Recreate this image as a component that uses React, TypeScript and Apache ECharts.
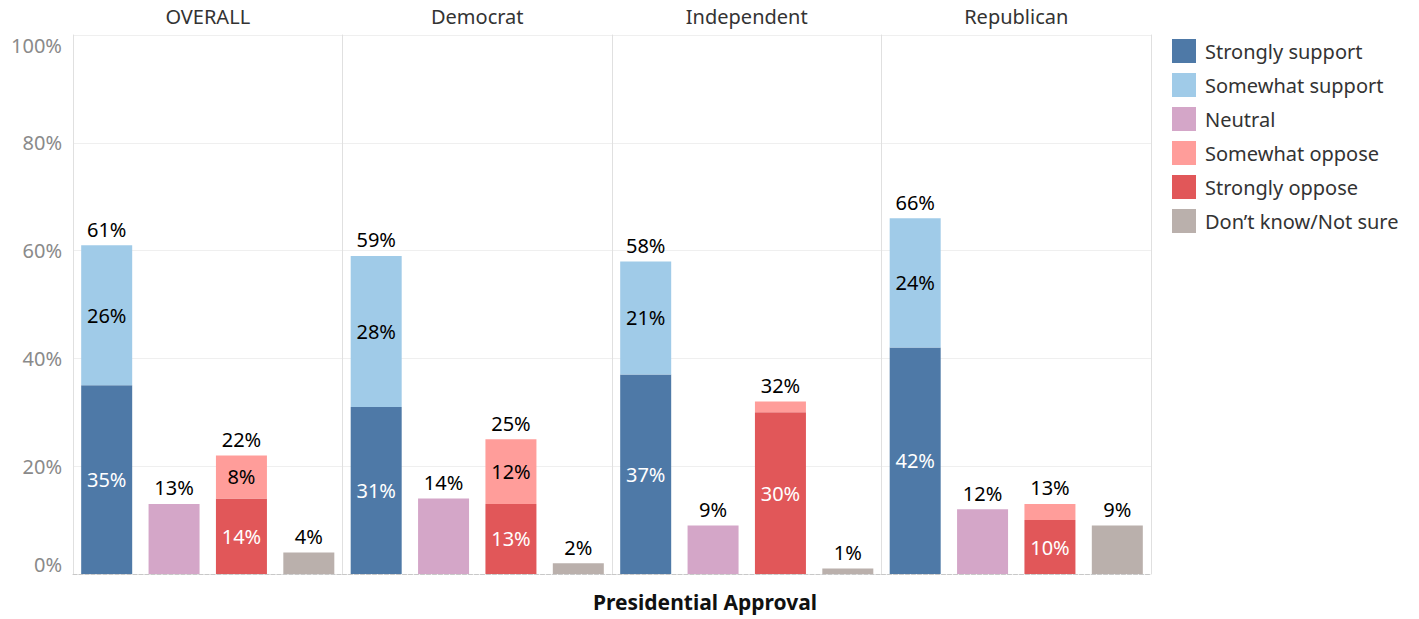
import React, { useEffect, useRef } from "react";
import * as echarts from "echarts";

const groups = ["OVERALL", "Democrat", "Independent", "Republican"];
const categories = ["Support", "Neutral", "Oppose", "Not sure"];
const stronglySupport = [35, 31, 37, 42];
const somewhatSupport = [26, 28, 21, 24];
const neutral = [13, 14, 9, 12];
const stronglyOppose = [14, 13, 30, 10];
const somewhatOppose = [8, 12, 2, 3];
const dontKnow = [4, 2, 1, 9];

const COLORS: Record<string, string> = {
  "Strongly support": "#4e79a7",
  "Somewhat support": "#a0cbe8",
  Neutral: "#d4a6c8",
  "Somewhat oppose": "#ff9d9a",
  "Strongly oppose": "#e15759",
  "Don’t know/Not sure": "#bab0ac",
};
const legendOrder = [
  "Strongly support",
  "Somewhat support",
  "Neutral",
  "Somewhat oppose",
  "Strongly oppose",
  "Don’t know/Not sure",
];

const FONT = "'Noto Sans', sans-serif";
const PLOT_LEFT = 73;
const PLOT_TOP = 35;
const PLOT_H = 539;
const PANEL_W = 269.5;
const LABEL_SIZE = 20;

export default function App() {
  const ref = useRef<HTMLDivElement>(null);
  useEffect(() => {
    if (!ref.current) return;
    const chart = echarts.init(ref.current, null, { renderer: "svg" });

    const grids: any[] = [];
    const xAxes: any[] = [];
    const yAxes: any[] = [];
    const series: any[] = [];
    const titles: any[] = [];

    const inside = (color: string) => ({
      show: true,
      position: "inside",
      color,
      fontSize: LABEL_SIZE,
      fontFamily: FONT,
      formatter: (p: any) => (p.value < 5 ? "" : p.value + "%"),
    });
    const top = {
      show: true,
      position: "top",
      color: "#000",
      fontSize: LABEL_SIZE,
      fontFamily: FONT,
      distance: 6,
      formatter: (p: any) => p.value + "%",
    };

    groups.forEach((g, i) => {
      grids.push({
        left: PLOT_LEFT + i * PANEL_W,
        top: PLOT_TOP,
        width: PANEL_W,
        height: PLOT_H,
      });
      xAxes.push({
        type: "category",
        gridIndex: i,
        data: categories,
        axisLabel: { show: false },
        axisTick: { show: false },
        axisLine: { show: true, lineStyle: { color: "#c8c8c8", type: "dashed" } },
      });
      yAxes.push({
        type: "value",
        gridIndex: i,
        min: 0,
        max: 100,
        interval: 20,
        axisLabel: {
          show: i === 0,
          formatter: "{value}%",
          color: "#8a8a8a",
          fontSize: 20,
          fontFamily: FONT,
          margin: 11,
          verticalAlignMinLabel: "bottom",
          verticalAlignMaxLabel: "top",
        },
        axisTick: { show: false },
        axisLine: { show: true, lineStyle: { color: "#e0e0e0" } },
        splitLine: { show: true, lineStyle: { color: "#efefef" } },
      });
      titles.push({
        text: g,
        left: PLOT_LEFT + i * PANEL_W + PANEL_W / 2,
        top: 6,
        padding: 0,
        textAlign: "center",
        textStyle: { fontSize: 20, fontWeight: "normal", color: "#333", fontFamily: FONT },
      });
      const stack = "s" + i;
      const base = { type: "bar", xAxisIndex: i, yAxisIndex: i, stack, barWidth: 51 };
      series.push({
        ...base,
        name: "Strongly support",
        data: [stronglySupport[i], "-", "-", "-"],
        itemStyle: { color: COLORS["Strongly support"] },
        label: inside("#fff"),
      });
      series.push({
        ...base,
        name: "Somewhat support",
        data: [somewhatSupport[i], "-", "-", "-"],
        itemStyle: { color: COLORS["Somewhat support"] },
        label: inside("#000"),
      });
      series.push({
        ...base,
        name: "Neutral",
        data: ["-", neutral[i], "-", "-"],
        itemStyle: { color: COLORS["Neutral"] },
        label: top,
      });
      series.push({
        ...base,
        name: "Strongly oppose",
        data: ["-", "-", stronglyOppose[i], "-"],
        itemStyle: { color: COLORS["Strongly oppose"] },
        label: inside("#fff"),
      });
      series.push({
        ...base,
        name: "Somewhat oppose",
        data: ["-", "-", somewhatOppose[i], "-"],
        itemStyle: { color: COLORS["Somewhat oppose"] },
        label: inside("#000"),
      });
      series.push({
        ...base,
        name: "Don’t know/Not sure",
        data: ["-", "-", "-", dontKnow[i]],
        itemStyle: { color: COLORS["Don’t know/Not sure"] },
        label: top,
      });
      series.push({
        type: "scatter",
        name: "total" + i,
        xAxisIndex: i,
        yAxisIndex: i,
        symbolSize: 0,
        itemStyle: { color: "#000", opacity: 1 },
        data: [
          [0, stronglySupport[i] + somewhatSupport[i]],
          [2, stronglyOppose[i] + somewhatOppose[i]],
        ],
        label: {
          show: true,
          position: "top",
          color: "#000",
          opacity: 1,
          fontSize: LABEL_SIZE,
          fontFamily: FONT,
          distance: 6,
          formatter: (p: any) => p.value[1] + "%",
        },
      });
    });

    // right border line of last panel
    yAxes.push({
      type: "value",
      gridIndex: 3,
      position: "right",
      min: 0,
      max: 100,
      interval: 20,
      axisLabel: { show: false },
      axisTick: { show: false },
      splitLine: { show: false },
      axisLine: { show: true, lineStyle: { color: "#e0e0e0" } },
    });

    titles.push({
      text: "Presidential Approval",
      left: 705,
      top: 591,
      padding: 0,
      textAlign: "center",
      textStyle: { fontSize: 21, fontWeight: "bold", color: "#111", fontFamily: FONT },
    });

    chart.setOption({
      animation: false,
      textStyle: { fontFamily: FONT },
      title: titles,
      legend: {
        data: legendOrder,
        orient: "vertical",
        left: 1172,
        top: 39,
        padding: 0,
        icon: "rect",
        itemWidth: 24,
        itemHeight: 24,
        itemGap: 10,
        selectedMode: false,
        textStyle: { fontSize: 20, color: "#333", fontFamily: FONT, padding: [0, 0, 0, 4] },
      },
      grid: grids,
      xAxis: xAxes,
      yAxis: yAxes,
      series,
    });
    return () => chart.dispose();
  }, []);
  return (
    <div
      ref={ref}
      style={{ position: "fixed", left: 0, top: 0, width: 1419, height: 619, background: "#fff" }}
    />
  );
}
